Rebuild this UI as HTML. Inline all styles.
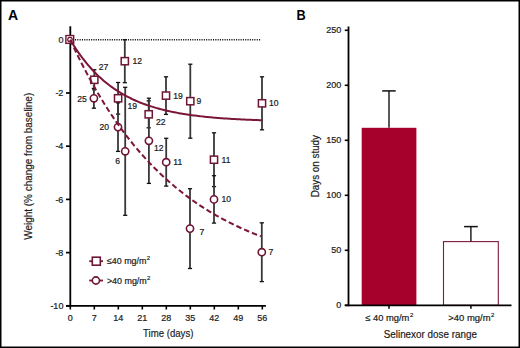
<!DOCTYPE html>
<html><head><meta charset="utf-8"><style>
html,body{margin:0;padding:0;background:#fff;}
#f{position:relative;width:520px;height:348px;overflow:hidden;background:#fff;}
svg{position:absolute;left:0;top:0;}
text{font-family:"Liberation Sans",sans-serif;fill:#1a1a1a;stroke:#1a1a1a;stroke-width:0.2px;}
.t9{font-size:9px;}
.t8{font-size:8.6px;}
.t6{font-size:6px;}
.t85{font-size:9px;}
.t11{font-size:11.8px;}
.tb{font-size:14px;font-weight:bold;fill:#000;stroke:none;}
</style></head><body><div id="f">
<svg width="520" height="348" viewBox="0 0 520 348">
<rect x="0.75" y="0.75" width="518.5" height="346.5" fill="none" stroke="#000" stroke-width="1.5"/>
<line x1="70.3" y1="26.3" x2="70.3" y2="306.7" stroke="#000" stroke-width="1.8"/>
<line x1="66" y1="305.8" x2="265.9" y2="305.8" stroke="#000" stroke-width="1.8"/>
<line x1="66" y1="39.80" x2="70.3" y2="39.80" stroke="#000" stroke-width="1.7"/>
<text x="63.4" y="43.00" class="t9" text-anchor="end">0</text>
<line x1="66" y1="93.00" x2="70.3" y2="93.00" stroke="#000" stroke-width="1.7"/>
<text x="63.4" y="96.20" class="t9" text-anchor="end">-2</text>
<line x1="66" y1="146.20" x2="70.3" y2="146.20" stroke="#000" stroke-width="1.7"/>
<text x="63.4" y="149.40" class="t9" text-anchor="end">-4</text>
<line x1="66" y1="199.40" x2="70.3" y2="199.40" stroke="#000" stroke-width="1.7"/>
<text x="63.4" y="202.60" class="t9" text-anchor="end">-6</text>
<line x1="66" y1="252.60" x2="70.3" y2="252.60" stroke="#000" stroke-width="1.7"/>
<text x="63.4" y="255.80" class="t9" text-anchor="end">-8</text>
<line x1="66" y1="305.80" x2="70.3" y2="305.80" stroke="#000" stroke-width="1.7"/>
<text x="63.4" y="309.00" class="t9" text-anchor="end">-10</text>
<line x1="70.30" y1="305.8" x2="70.30" y2="309.5" stroke="#000" stroke-width="1.6"/>
<text x="70.30" y="321.2" class="t9" text-anchor="middle">0</text>
<line x1="94.30" y1="305.8" x2="94.30" y2="309.5" stroke="#000" stroke-width="1.6"/>
<text x="94.30" y="321.2" class="t9" text-anchor="middle">7</text>
<line x1="118.30" y1="305.8" x2="118.30" y2="309.5" stroke="#000" stroke-width="1.6"/>
<text x="118.30" y="321.2" class="t9" text-anchor="middle">14</text>
<line x1="142.30" y1="305.8" x2="142.30" y2="309.5" stroke="#000" stroke-width="1.6"/>
<text x="142.30" y="321.2" class="t9" text-anchor="middle">21</text>
<line x1="166.30" y1="305.8" x2="166.30" y2="309.5" stroke="#000" stroke-width="1.6"/>
<text x="166.30" y="321.2" class="t9" text-anchor="middle">28</text>
<line x1="190.30" y1="305.8" x2="190.30" y2="309.5" stroke="#000" stroke-width="1.6"/>
<text x="190.30" y="321.2" class="t9" text-anchor="middle">35</text>
<line x1="214.30" y1="305.8" x2="214.30" y2="309.5" stroke="#000" stroke-width="1.6"/>
<text x="214.30" y="321.2" class="t9" text-anchor="middle">42</text>
<line x1="238.30" y1="305.8" x2="238.30" y2="309.5" stroke="#000" stroke-width="1.6"/>
<text x="238.30" y="321.2" class="t9" text-anchor="middle">49</text>
<line x1="262.30" y1="305.8" x2="262.30" y2="309.5" stroke="#000" stroke-width="1.6"/>
<text x="262.30" y="321.2" class="t9" text-anchor="middle">56</text>
<line x1="75" y1="39.8" x2="261" y2="39.8" stroke="#111" stroke-width="1.6" stroke-dasharray="1.1 1.2"/>
<line x1="94.3" y1="69.80" x2="94.3" y2="89.80" stroke="#383838" stroke-width="1.8"/>
<line x1="92.20" y1="69.80" x2="96.40" y2="69.80" stroke="#111" stroke-width="1.3"/>
<line x1="92.20" y1="89.80" x2="96.40" y2="89.80" stroke="#111" stroke-width="1.3"/>
<line x1="124.8" y1="39.70" x2="124.8" y2="82.70" stroke="#383838" stroke-width="1.8"/>
<line x1="122.70" y1="39.70" x2="126.90" y2="39.70" stroke="#111" stroke-width="1.3"/>
<line x1="122.70" y1="82.70" x2="126.90" y2="82.70" stroke="#111" stroke-width="1.3"/>
<line x1="118.1" y1="82.50" x2="118.1" y2="114.10" stroke="#383838" stroke-width="1.8"/>
<line x1="116.00" y1="82.50" x2="120.20" y2="82.50" stroke="#111" stroke-width="1.3"/>
<line x1="116.00" y1="114.10" x2="120.20" y2="114.10" stroke="#111" stroke-width="1.3"/>
<line x1="148.7" y1="100.80" x2="148.7" y2="127.80" stroke="#383838" stroke-width="1.8"/>
<line x1="146.60" y1="100.80" x2="150.80" y2="100.80" stroke="#111" stroke-width="1.3"/>
<line x1="146.60" y1="127.80" x2="150.80" y2="127.80" stroke="#111" stroke-width="1.3"/>
<line x1="166.0" y1="76.80" x2="166.0" y2="114.40" stroke="#383838" stroke-width="1.8"/>
<line x1="163.90" y1="76.80" x2="168.10" y2="76.80" stroke="#111" stroke-width="1.3"/>
<line x1="163.90" y1="114.40" x2="168.10" y2="114.40" stroke="#111" stroke-width="1.3"/>
<line x1="190.3" y1="64.20" x2="190.3" y2="138.20" stroke="#383838" stroke-width="1.8"/>
<line x1="188.20" y1="64.20" x2="192.40" y2="64.20" stroke="#111" stroke-width="1.3"/>
<line x1="188.20" y1="138.20" x2="192.40" y2="138.20" stroke="#111" stroke-width="1.3"/>
<line x1="214.0" y1="132.80" x2="214.0" y2="186.60" stroke="#383838" stroke-width="1.8"/>
<line x1="211.90" y1="132.80" x2="216.10" y2="132.80" stroke="#111" stroke-width="1.3"/>
<line x1="211.90" y1="186.60" x2="216.10" y2="186.60" stroke="#111" stroke-width="1.3"/>
<line x1="262.0" y1="76.80" x2="262.0" y2="129.80" stroke="#383838" stroke-width="1.8"/>
<line x1="259.90" y1="76.80" x2="264.10" y2="76.80" stroke="#111" stroke-width="1.3"/>
<line x1="259.90" y1="129.80" x2="264.10" y2="129.80" stroke="#111" stroke-width="1.3"/>
<line x1="93.9" y1="88.40" x2="93.9" y2="108.20" stroke="#383838" stroke-width="1.8"/>
<line x1="91.80" y1="88.40" x2="96.00" y2="88.40" stroke="#111" stroke-width="1.3"/>
<line x1="91.80" y1="108.20" x2="96.00" y2="108.20" stroke="#111" stroke-width="1.3"/>
<line x1="118.0" y1="102.80" x2="118.0" y2="151.40" stroke="#383838" stroke-width="1.8"/>
<line x1="115.90" y1="102.80" x2="120.10" y2="102.80" stroke="#111" stroke-width="1.3"/>
<line x1="115.90" y1="151.40" x2="120.10" y2="151.40" stroke="#111" stroke-width="1.3"/>
<line x1="125.2" y1="87.30" x2="125.2" y2="215.30" stroke="#383838" stroke-width="1.8"/>
<line x1="123.10" y1="87.30" x2="127.30" y2="87.30" stroke="#111" stroke-width="1.3"/>
<line x1="123.10" y1="215.30" x2="127.30" y2="215.30" stroke="#111" stroke-width="1.3"/>
<line x1="148.9" y1="98.20" x2="148.9" y2="183.40" stroke="#383838" stroke-width="1.8"/>
<line x1="146.80" y1="98.20" x2="151.00" y2="98.20" stroke="#111" stroke-width="1.3"/>
<line x1="146.80" y1="183.40" x2="151.00" y2="183.40" stroke="#111" stroke-width="1.3"/>
<line x1="166.2" y1="138.30" x2="166.2" y2="186.10" stroke="#383838" stroke-width="1.8"/>
<line x1="164.10" y1="138.30" x2="168.30" y2="138.30" stroke="#111" stroke-width="1.3"/>
<line x1="164.10" y1="186.10" x2="168.30" y2="186.10" stroke="#111" stroke-width="1.3"/>
<line x1="190.0" y1="188.70" x2="190.0" y2="268.50" stroke="#383838" stroke-width="1.8"/>
<line x1="187.90" y1="188.70" x2="192.10" y2="188.70" stroke="#111" stroke-width="1.3"/>
<line x1="187.90" y1="268.50" x2="192.10" y2="268.50" stroke="#111" stroke-width="1.3"/>
<line x1="214.0" y1="175.70" x2="214.0" y2="223.10" stroke="#383838" stroke-width="1.8"/>
<line x1="211.90" y1="175.70" x2="216.10" y2="175.70" stroke="#111" stroke-width="1.3"/>
<line x1="211.90" y1="223.10" x2="216.10" y2="223.10" stroke="#111" stroke-width="1.3"/>
<line x1="261.8" y1="222.80" x2="261.8" y2="281.60" stroke="#383838" stroke-width="1.8"/>
<line x1="259.70" y1="222.80" x2="263.90" y2="222.80" stroke="#111" stroke-width="1.3"/>
<line x1="259.70" y1="281.60" x2="263.90" y2="281.60" stroke="#111" stroke-width="1.3"/>
<rect x="90.70" y="76.20" width="7.2" height="7.2" fill="#fff" stroke="#6e1434" stroke-width="1.5"/>
<text x="98.7" y="69.6" class="t8">27</text>
<rect x="121.20" y="57.60" width="7.2" height="7.2" fill="#fff" stroke="#6e1434" stroke-width="1.5"/>
<text x="132.4" y="64.1" class="t8">12</text>
<rect x="114.50" y="94.70" width="7.2" height="7.2" fill="#fff" stroke="#6e1434" stroke-width="1.5"/>
<text x="127.4" y="108.9" class="t8">19</text>
<rect x="145.10" y="110.70" width="7.2" height="7.2" fill="#fff" stroke="#6e1434" stroke-width="1.5"/>
<text x="155.9" y="125.2" class="t8">22</text>
<rect x="162.40" y="92.00" width="7.2" height="7.2" fill="#fff" stroke="#6e1434" stroke-width="1.5"/>
<text x="173.2" y="98.9" class="t8">19</text>
<rect x="186.70" y="97.60" width="7.2" height="7.2" fill="#fff" stroke="#6e1434" stroke-width="1.5"/>
<text x="196.6" y="104.1" class="t8">9</text>
<rect x="210.40" y="156.10" width="7.2" height="7.2" fill="#fff" stroke="#6e1434" stroke-width="1.5"/>
<text x="221.6" y="162.6" class="t8">11</text>
<rect x="258.40" y="99.70" width="7.2" height="7.2" fill="#fff" stroke="#6e1434" stroke-width="1.5"/>
<text x="269.1" y="106.4" class="t8">10</text>
<circle cx="93.9" cy="98.3" r="3.6" fill="#fff" stroke="#6e1434" stroke-width="1.6"/>
<text x="86.9" y="101.7" class="t8" text-anchor="end">25</text>
<circle cx="118.0" cy="127.1" r="3.6" fill="#fff" stroke="#6e1434" stroke-width="1.6"/>
<text x="109.0" y="130.4" class="t8" text-anchor="end">20</text>
<circle cx="125.2" cy="151.3" r="3.6" fill="#fff" stroke="#6e1434" stroke-width="1.6"/>
<text x="115.3" y="164.4" class="t8" text-anchor="start">6</text>
<circle cx="148.9" cy="140.8" r="3.6" fill="#fff" stroke="#6e1434" stroke-width="1.6"/>
<text x="153.9" y="150.9" class="t8" text-anchor="start">12</text>
<circle cx="166.2" cy="162.2" r="3.6" fill="#fff" stroke="#6e1434" stroke-width="1.6"/>
<text x="173.3" y="165.1" class="t8" text-anchor="start">11</text>
<circle cx="190.0" cy="228.6" r="3.6" fill="#fff" stroke="#6e1434" stroke-width="1.6"/>
<text x="199.4" y="234.6" class="t8" text-anchor="start">7</text>
<circle cx="214.0" cy="199.4" r="3.6" fill="#fff" stroke="#6e1434" stroke-width="1.6"/>
<text x="221.6" y="202.4" class="t8" text-anchor="start">10</text>
<circle cx="261.8" cy="252.2" r="3.6" fill="#fff" stroke="#6e1434" stroke-width="1.6"/>
<text x="268.4" y="255.2" class="t8" text-anchor="start">7</text>
<rect x="65.9" y="35.55" width="7.8" height="7.8" fill="#fff" stroke="#6e1434" stroke-width="1.4"/>
<circle cx="70.0" cy="39.6" r="2.3" fill="#fff" stroke="#6e1434" stroke-width="1.2"/>
<path d="M70.30,39.80 L71.90,42.47 L73.50,45.06 L75.10,47.56 L76.70,49.98 L78.30,52.32 L79.90,54.58 L81.50,56.77 L83.10,58.89 L84.70,60.94 L86.30,62.93 L87.90,64.85 L89.50,66.70 L91.10,68.50 L92.70,70.23 L94.30,71.92 L95.90,73.54 L97.50,75.11 L99.10,76.64 L100.70,78.11 L102.30,79.53 L103.90,80.91 L105.50,82.24 L107.10,83.53 L108.70,84.78 L110.30,85.98 L111.90,87.15 L113.50,88.28 L115.10,89.37 L116.70,90.43 L118.30,91.45 L119.90,92.44 L121.50,93.40 L123.10,94.32 L124.70,95.22 L126.30,96.09 L127.90,96.92 L129.50,97.73 L131.10,98.52 L132.70,99.28 L134.30,100.01 L135.90,100.72 L137.50,101.41 L139.10,102.07 L140.70,102.72 L142.30,103.34 L143.90,103.94 L145.50,104.52 L147.10,105.08 L148.70,105.63 L150.30,106.16 L151.90,106.67 L153.50,107.16 L155.10,107.64 L156.70,108.10 L158.30,108.54 L159.90,108.98 L161.50,109.39 L163.10,109.80 L164.70,110.19 L166.30,110.57 L167.90,110.93 L169.50,111.29 L171.10,111.63 L172.70,111.96 L174.30,112.28 L175.90,112.59 L177.50,112.89 L179.10,113.18 L180.70,113.46 L182.30,113.74 L183.90,114.00 L185.50,114.25 L187.10,114.50 L188.70,114.74 L190.30,114.97 L191.90,115.19 L193.50,115.41 L195.10,115.61 L196.70,115.82 L198.30,116.01 L199.90,116.20 L201.50,116.38 L203.10,116.56 L204.70,116.73 L206.30,116.89 L207.90,117.05 L209.50,117.21 L211.10,117.36 L212.70,117.50 L214.30,117.64 L215.90,117.78 L217.50,117.91 L219.10,118.04 L220.70,118.16 L222.30,118.28 L223.90,118.39 L225.50,118.50 L227.10,118.61 L228.70,118.72 L230.30,118.82 L231.90,118.91 L233.50,119.01 L235.10,119.10 L236.70,119.19 L238.30,119.27 L239.90,119.35 L241.50,119.43 L243.10,119.51 L244.70,119.59 L246.30,119.66 L247.90,119.73 L249.50,119.79 L251.10,119.86 L252.70,119.92 L254.30,119.98 L255.90,120.04 L257.50,120.10 L259.10,120.16 L260.70,120.21 L262.30,120.26" fill="none" stroke="#7c1636" stroke-width="2"/>
<path d="M70.30,39.80 L71.89,43.25 L73.48,46.65 L75.07,50.01 L76.65,53.31 L78.24,56.57 L79.83,59.77 L81.42,62.94 L83.01,66.05 L84.60,69.12 L86.19,72.15 L87.77,75.13 L89.36,78.07 L90.95,80.96 L92.54,83.82 L94.13,86.63 L95.72,89.40 L97.31,92.13 L98.89,94.82 L100.48,97.48 L102.07,100.09 L103.66,102.66 L105.25,105.20 L106.84,107.70 L108.43,110.17 L110.01,112.60 L111.60,114.99 L113.19,117.35 L114.78,119.68 L116.37,121.97 L117.96,124.23 L119.55,126.45 L121.13,128.64 L122.72,130.80 L124.31,132.93 L125.90,135.03 L127.49,137.10 L129.08,139.14 L130.67,141.14 L132.25,143.12 L133.84,145.07 L135.43,147.00 L137.02,148.89 L138.61,150.76 L140.20,152.60 L141.79,154.41 L143.37,156.19 L144.96,157.95 L146.55,159.69 L148.14,161.40 L149.73,163.08 L151.32,164.74 L152.91,166.38 L154.49,167.99 L156.08,169.58 L157.67,171.15 L159.26,172.69 L160.85,174.21 L162.44,175.71 L164.03,177.18 L165.61,178.64 L167.20,180.07 L168.79,181.49 L170.38,182.88 L171.97,184.25 L173.56,185.60 L175.15,186.94 L176.73,188.25 L178.32,189.54 L179.91,190.82 L181.50,192.08 L183.09,193.32 L184.68,194.54 L186.27,195.74 L187.85,196.92 L189.44,198.09 L191.03,199.24 L192.62,200.38 L194.21,201.50 L195.80,202.60 L197.39,203.68 L198.97,204.75 L200.56,205.81 L202.15,206.85 L203.74,207.87 L205.33,208.88 L206.92,209.88 L208.51,210.86 L210.09,211.82 L211.68,212.77 L213.27,213.71 L214.86,214.63 L216.45,215.55 L218.04,216.44 L219.63,217.33 L221.21,218.20 L222.80,219.06 L224.39,219.90 L225.98,220.74 L227.57,221.56 L229.16,222.37 L230.75,223.17 L232.33,223.96 L233.92,224.73 L235.51,225.50 L237.10,226.25 L238.69,226.99 L240.28,227.72 L241.87,228.44 L243.45,229.15 L245.04,229.85 L246.63,230.54 L248.22,231.22 L249.81,231.89 L251.40,232.55 L252.99,233.20 L254.57,233.84 L256.16,234.47 L257.75,235.10 L259.34,235.71 L260.93,236.31" fill="none" stroke="#7c1636" stroke-width="2" stroke-dasharray="5.5 3"/>
<line x1="89.2" y1="261.2" x2="103" y2="261.2" stroke="#7c1636" stroke-width="1.8"/>
<rect x="92.3" y="257.2" width="8" height="8" fill="#fff" stroke="#6e1434" stroke-width="1.6"/>
<text x="106.9" y="264.2" class="t85" textLength="39.6" lengthAdjust="spacingAndGlyphs">≤40 mg/m</text><text x="146.7" y="260.2" class="t6">2</text>
<line x1="89.2" y1="280.5" x2="103" y2="280.5" stroke="#7c1636" stroke-width="1.8"/>
<circle cx="95.9" cy="280.5" r="3.6" fill="#fff" stroke="#6e1434" stroke-width="1.6"/>
<text x="106.9" y="283.5" class="t85" textLength="39.9" lengthAdjust="spacingAndGlyphs">&gt;40 mg/m</text><text x="147.0" y="279.5" class="t6">2</text>
<text x="143.1" y="336.5" class="t11" textLength="50.3" lengthAdjust="spacingAndGlyphs">Time (days)</text>
<text transform="translate(31.5,239.8) rotate(-90)" class="t11" textLength="147" lengthAdjust="spacingAndGlyphs">Weight (% change from baseline)</text>
<text x="7.9" y="19.6" class="tb">A</text>
<text x="296.6" y="19.5" class="tb" textLength="9.2" lengthAdjust="spacingAndGlyphs">B</text>
<rect x="361.7" y="127.8" width="54.7" height="177.50" fill="#a6002c"/>
<rect x="443.5" y="241.6" width="54.8" height="63.70" fill="#fff" stroke="#84183c" stroke-width="1.1"/>
<line x1="389" y1="127.8" x2="389" y2="91" stroke="#222" stroke-width="1.5"/>
<line x1="382.2" y1="90.9" x2="395.7" y2="90.9" stroke="#111" stroke-width="1.5"/>
<line x1="470.9" y1="241.6" x2="470.9" y2="226.6" stroke="#222" stroke-width="1.5"/>
<line x1="464.1" y1="226.6" x2="477.8" y2="226.6" stroke="#111" stroke-width="1.5"/>
<line x1="348.5" y1="26.6" x2="348.5" y2="306.2" stroke="#000" stroke-width="1.8"/>
<line x1="344.8" y1="305.3" x2="511.5" y2="305.3" stroke="#000" stroke-width="1.8"/>
<line x1="344.8" y1="305.30" x2="348.5" y2="305.30" stroke="#000" stroke-width="1.6"/>
<text x="341.3" y="308.30" class="t9" text-anchor="end">0</text>
<line x1="344.8" y1="250.30" x2="348.5" y2="250.30" stroke="#000" stroke-width="1.6"/>
<text x="341.3" y="253.30" class="t9" text-anchor="end">50</text>
<line x1="344.8" y1="195.30" x2="348.5" y2="195.30" stroke="#000" stroke-width="1.6"/>
<text x="341.3" y="198.30" class="t9" text-anchor="end">100</text>
<line x1="344.8" y1="140.30" x2="348.5" y2="140.30" stroke="#000" stroke-width="1.6"/>
<text x="341.3" y="143.30" class="t9" text-anchor="end">150</text>
<line x1="344.8" y1="85.30" x2="348.5" y2="85.30" stroke="#000" stroke-width="1.6"/>
<text x="341.3" y="88.30" class="t9" text-anchor="end">200</text>
<line x1="344.8" y1="30.30" x2="348.5" y2="30.30" stroke="#000" stroke-width="1.6"/>
<text x="341.3" y="33.30" class="t9" text-anchor="end">250</text>
<line x1="389.0" y1="305.3" x2="389.0" y2="308.8" stroke="#000" stroke-width="1.5"/>
<line x1="470.9" y1="305.3" x2="470.9" y2="308.8" stroke="#000" stroke-width="1.5"/>
<text x="365.4" y="321.3" class="t85" textLength="44.0" lengthAdjust="spacingAndGlyphs">≤ 40 mg/m</text><text x="409.9" y="317.0" class="t6">2</text>
<text x="448.3" y="321.3" class="t85" textLength="42.3" lengthAdjust="spacingAndGlyphs">&gt;40 mg/m</text><text x="491.1" y="317.0" class="t6">2</text>
<text x="383.7" y="337.6" class="t11" textLength="93.2" lengthAdjust="spacingAndGlyphs">Selinexor dose range</text>
<text transform="translate(318.7,197.3) rotate(-90)" class="t11" style="font-size:10.8px" textLength="62.3" lengthAdjust="spacingAndGlyphs">Days on study</text>
</svg></div></body></html>
